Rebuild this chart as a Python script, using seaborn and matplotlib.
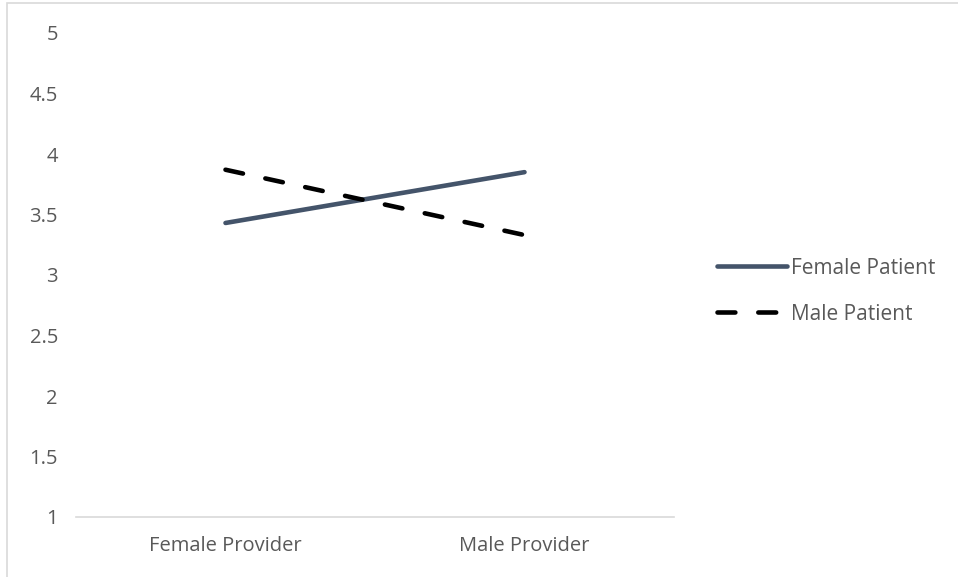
import pandas as pd
import matplotlib.pyplot as plt
import seaborn as sns
from matplotlib.patches import Rectangle

providers = ['Female Provider', 'Male Provider']
female_patient = [3.43, 3.85]
male_patient = [3.87, 3.33]

sns.set_theme(style="white")
plt.rcParams['font.family'] = ['Open Sans', 'DejaVu Sans']

df = pd.DataFrame({
    'Provider': providers * 2,
    'Rating': female_patient + male_patient,
    'Patient': ['Female Patient'] * 2 + ['Male Patient'] * 2,
})

fig = plt.figure(figsize=(9.58, 5.77), dpi=100)
ax = fig.add_axes([76 / 958, 1 - 517 / 577, (674 - 76) / 958, (517 - 33) / 577])

sns.lineplot(data=df, x='Provider', y='Rating', hue='Patient', style='Patient',
             palette={'Female Patient': '#44546A', 'Male Patient': '#000000'},
             dashes={'Female Patient': '', 'Male Patient': (3.9, 5)},
             linewidth=3.3, ax=ax, legend=False)

for ln in ax.lines:
    ln.set_dash_capstyle('round')
    ln.set_solid_capstyle('round')

ax.set_xlim(-0.5, 1.5)
ax.set_ylim(1, 5)
ax.set_yticks([1, 1.5, 2, 2.5, 3, 3.5, 4, 4.5, 5])
ax.set_yticklabels(['1', '1.5', '2', '2.5', '3', '3.5', '4', '4.5', '5'])
ax.set_xlabel('')
ax.set_ylabel('')
for s in ['top', 'right', 'left']:
    ax.spines[s].set_visible(False)
ax.spines['bottom'].set_color('#D9D9D9')
ax.spines['bottom'].set_linewidth(1.2)
ax.tick_params(axis='both', length=0, colors='#595959', labelsize=14.5)
ax.tick_params(axis='y', pad=13)
ax.tick_params(axis='x', pad=14)

ax.legend(ax.lines, ['Female Patient', 'Male Patient'], loc='center left',
          bbox_to_anchor=(698 / 958, 1 - 291 / 577), bbox_transform=fig.transFigure,
          frameon=False, fontsize=15, handlelength=3.35, handletextpad=0.2,
          labelspacing=1.2, labelcolor='#595959')

fig.patches.append(Rectangle((7 / 958, -0.1), 1.2, 1 - 3 / 577 + 0.1, fill=False,
                             edgecolor='#D9D9D9', linewidth=1.2, transform=fig.transFigure))

fig.savefig('out.png', dpi=100)
